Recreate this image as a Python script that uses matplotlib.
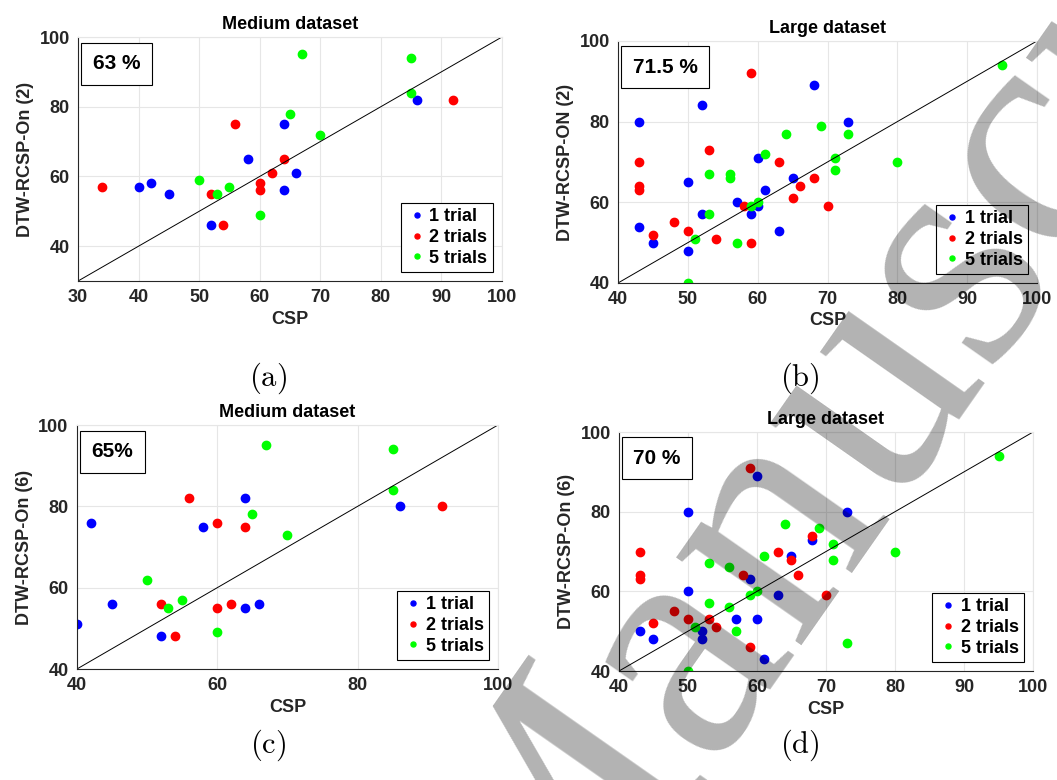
import matplotlib.pyplot as plt

plt.rcParams['font.family'] = 'Liberation Sans'
plt.rcParams['font.weight'] = 'bold'
plt.rcParams['mathtext.fontset'] = 'cm'

# (a) Medium dataset, DTW-RCSP-On (2)
a_x1 = [40, 42, 45, 52, 58, 64, 64, 66, 86]
a_y1 = [57, 58, 55, 46, 65, 75, 56, 61, 82]
a_x2 = [34, 52, 56, 54, 60, 60, 62, 64, 92]
a_y2 = [57, 55, 75, 46, 58, 56, 61, 65, 82]
a_x5 = [50, 53, 55, 60, 65, 67, 70, 85, 85]
a_y5 = [59, 55, 57, 49, 78, 95, 72, 94, 84]

# (b) Large dataset, DTW-RCSP-ON (2)
b_x1 = [43, 43, 45, 50, 50, 52, 52, 57, 60, 60, 59, 61, 63, 65, 68, 73]
b_y1 = [80, 54, 50, 65, 48, 84, 57, 60, 71, 59, 57, 63, 53, 66, 89, 80]
b_x2 = [43, 43, 43, 45, 48, 50, 53, 54, 58, 59, 59, 63, 65, 66, 68, 70]
b_y2 = [70, 64, 63, 52, 55, 53, 73, 51, 59, 92, 50, 70, 61, 64, 66, 59]
b_x5 = [50, 51, 53, 53, 56, 56, 57, 59, 60, 61, 64, 69, 71, 71, 73, 80, 95]
b_y5 = [40, 51, 67, 57, 67, 66, 50, 59, 60, 72, 77, 79, 71, 68, 77, 70, 94]

# (c) Medium dataset, DTW-RCSP-On (6)
c_x1 = [40, 42, 45, 52, 58, 64, 64, 66, 86]
c_y1 = [51, 76, 56, 48, 75, 82, 55, 56, 80]
c_x2 = [52, 54, 56, 60, 60, 62, 64, 92]
c_y2 = [56, 48, 82, 76, 55, 56, 75, 80]
c_x5 = [50, 53, 55, 60, 65, 67, 70, 85, 85]
c_y5 = [62, 55, 57, 49, 78, 95, 73, 94, 84]

# (d) Large dataset, DTW-RCSP-On (6)
d_x1 = [43, 45, 50, 50, 52, 52, 57, 59, 60, 60, 61, 63, 65, 68, 73]
d_y1 = [50, 48, 80, 60, 50, 48, 53, 63, 89, 53, 43, 59, 69, 73, 80]
d_x2 = [43, 43, 43, 45, 48, 50, 53, 54, 58, 59, 59, 63, 65, 66, 68, 70]
d_y2 = [70, 64, 63, 52, 55, 53, 53, 51, 64, 91, 46, 70, 68, 64, 74, 59]
d_x5 = [50, 51, 53, 53, 56, 56, 57, 59, 60, 61, 64, 69, 71, 71, 73, 80, 95]
d_y5 = [40, 51, 67, 57, 66, 56, 50, 59, 60, 69, 77, 76, 72, 68, 47, 70, 94]

panels = [
    ([0.0738, 0.6397, 0.401, 0.3128], 'Medium dataset', 'DTW-RCSP-On (2)', '63 %',
     (a_x1, a_y1, a_x2, a_y2, a_x5, a_y5), (30, 100), (30, 100),
     [30, 40, 50, 60, 70, 80, 90, 100], [40, 60, 80, 100], '(a)', (0.2535, 0.515)),
    ([0.5847, 0.6372, 0.3964, 0.3103], 'Large dataset', 'DTW-RCSP-ON (2)', '71.5 %',
     (b_x1, b_y1, b_x2, b_y2, b_x5, b_y5), (40, 100), (40, 100),
     [40, 50, 60, 70, 80, 90, 100], [40, 60, 80, 100], '(b)', (0.757, 0.515)),
    ([0.0728, 0.1423, 0.3983, 0.3128], 'Medium dataset', 'DTW-RCSP-On (6)', '65%',
     (c_x1, c_y1, c_x2, c_y2, c_x5, c_y5), (40, 100), (40, 100),
     [40, 60, 80, 100], [40, 60, 80, 100], '(c)', (0.2535, 0.045)),
    ([0.5856, 0.1397, 0.3917, 0.3064], 'Large dataset', 'DTW-RCSP-On (6)', '70 %',
     (d_x1, d_y1, d_x2, d_y2, d_x5, d_y5), (40, 100), (40, 100),
     [40, 50, 60, 70, 80, 90, 100], [40, 60, 80, 100], '(d)', (0.757, 0.045)),
]

fig = plt.figure(figsize=(10.57, 7.8), dpi=100)

for rect, title, ylab, pct, data, xl, yl, xt, yt, tag, tagpos in panels:
    ax = fig.add_axes(rect)
    x1, y1, x2, y2, x5, y5 = data
    ax.grid(True, color='#e6e6e6', linewidth=0.8)
    ax.set_axisbelow(True)
    ax.plot(x1, y1, 'o', color='#0000ff', markersize=6, label='1 trial')
    ax.plot(x2, y2, 'o', color='#ff0000', markersize=6, label='2 trials')
    ax.plot(x5, y5, 'o', color='#00ff00', markersize=6, label='5 trials')
    ax.plot([0, 100], [0, 100], color='black', linewidth=0.7)
    ax.set_xlim(xl)
    ax.set_ylim(yl)
    ax.set_xticks(xt)
    ax.set_yticks(yt)
    ax.tick_params(labelsize=13, length=0, pad=6, colors='#262626')
    for s in ['top', 'right']:
        ax.spines[s].set_color('#e6e6e6')
    for s in ['left', 'bottom']:
        ax.spines[s].set_color('#262626')
    ax.set_title(title, fontsize=13, fontweight='bold', pad=6)
    ax.set_xlabel('CSP', fontsize=13, fontweight='bold', color='#262626', labelpad=3)
    ax.set_ylabel(ylab, fontsize=13, fontweight='bold', color='#262626')
    ax.text(0.035, 0.93, pct, transform=ax.transAxes, fontsize=15, fontweight='bold',
            va='top', ha='left',
            bbox=dict(boxstyle='square,pad=0.55', facecolor='white', edgecolor='black', linewidth=0.8))
    leg = ax.legend(loc='lower right', fontsize=13, markerscale=0.6, handletextpad=0.1,
                    handlelength=1.2, borderpad=0.3, labelspacing=0.2, fancybox=False,
                    edgecolor='black', framealpha=1, borderaxespad=0.5)
    leg.get_frame().set_linewidth(0.8)
    fig.text(tagpos[0], tagpos[1], r'$\mathrm{' + tag + '}$',
             fontsize=22, ha='center', va='center')

# manuscript watermark
fig.text(0.51, -0.29, 'Manuscript', rotation=55, fontsize=240, color='black', alpha=0.3,
         family='Liberation Serif', fontweight='normal', ha='left', va='baseline',
         rotation_mode='anchor')

fig.savefig('out.png', dpi=100)
